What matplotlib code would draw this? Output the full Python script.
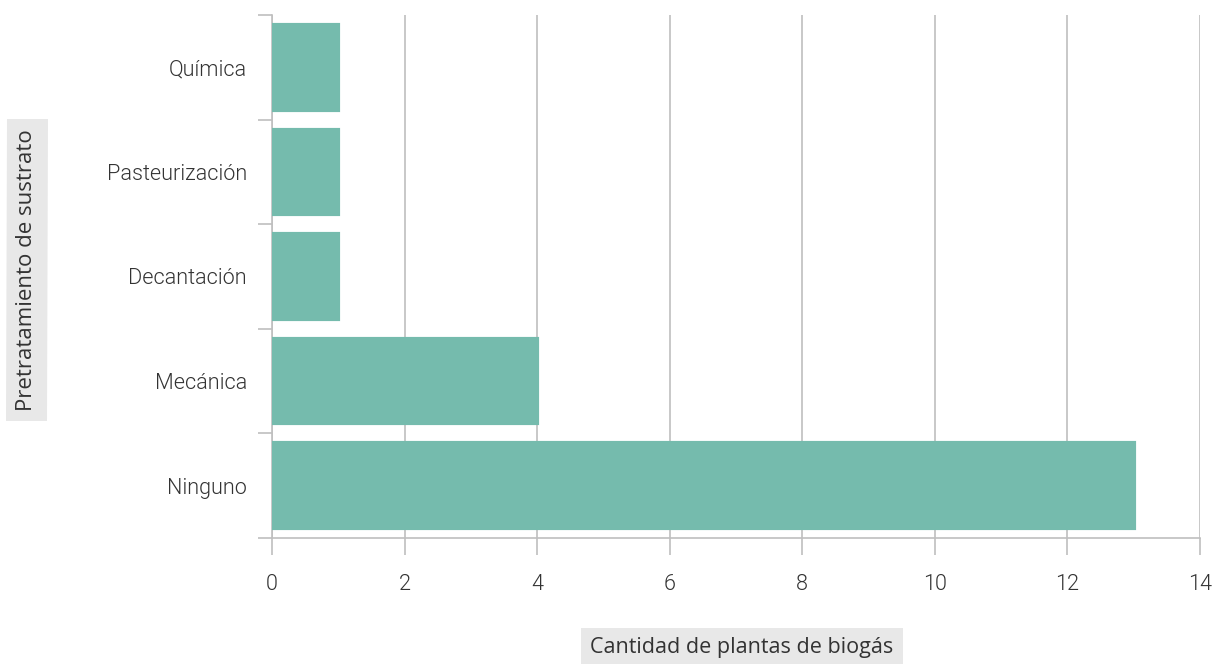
import matplotlib
matplotlib.use("Agg")
import matplotlib.pyplot as plt

categories = ["Ninguno", "Mecánica", "Decantación", "Pasteurización", "Química"]
values = [13, 4, 1, 1, 1]
xticks = [0, 2, 4, 6, 8, 10, 12, 14]
xlabel = "Cantidad de plantas de biogás"
ylabel = "Pretratamiento de sustrato"

W, H = 1215, 664
fig = plt.figure(figsize=(W / 100, H / 100), dpi=100)
ax = fig.add_axes([272 / W, 1 - 538 / H, (1200 - 272) / W, (538 - 15) / H])

bar_color = "#75bbad"
grid_color = "#bfbfbf"
text_color = "#333333"

ypos = list(range(len(categories)))
ax.barh(ypos, values, height=0.81, color=bar_color, edgecolor=bar_color, linewidth=3, zorder=3)

ax.set_xlim(0, 14)
ax.set_ylim(-0.5, len(categories) - 0.5)
ax.set_xticks(xticks)
ax.set_xticklabels([str(t) for t in xticks])
ax.xaxis.grid(True, color=grid_color, linewidth=1.2, zorder=0)

ax.set_yticks([i - 0.5 for i in range(len(categories) + 1)])
ax.set_yticklabels([])
ax.set_yticks(ypos, minor=True)
ax.set_yticklabels(categories, minor=True)
ax.tick_params(axis="y", which="minor", length=0, pad=18)
ax.tick_params(axis="y", which="major", length=10, width=1.2, color=grid_color)
ax.tick_params(axis="x", length=12, width=1.2, color=grid_color, pad=14)

for side in ["top", "right"]:
    ax.spines[side].set_visible(False)
for side in ["left", "bottom"]:
    ax.spines[side].set_color(grid_color)
    ax.spines[side].set_linewidth(1.2)

for lab in ax.get_xticklabels() + ax.get_yticklabels(minor=True):
    lab.set_fontfamily(["Roboto", "DejaVu Sans"])
    lab.set_fontweight(300)
    lab.set_fontsize(15.6)
    lab.set_color(text_color)

lab_font = dict(family=["Open Sans", "DejaVu Sans"], size=15.5, color=text_color)
fig.text(742 / W, 1 - 648 / H, xlabel, ha="center", va="center",
         bbox=dict(boxstyle="square,pad=0.45", facecolor="#e8e8e8", edgecolor="none"), **lab_font)
fig.text(27 / W, 1 - 270 / H, ylabel, ha="center", va="center", rotation=90, fontsize=16,
         family=["Open Sans", "DejaVu Sans"], color=text_color,
         bbox=dict(boxstyle="square,pad=0.45", facecolor="#e8e8e8", edgecolor="none"))

fig.savefig("out.png", dpi=100)
